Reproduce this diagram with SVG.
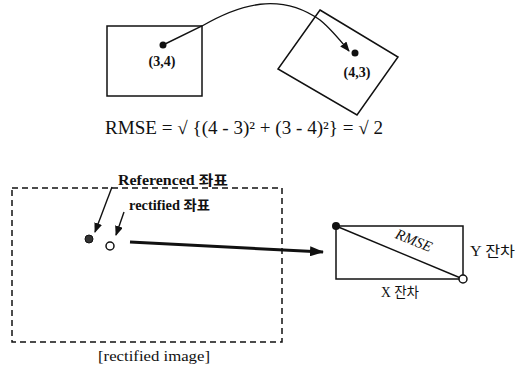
<svg xmlns="http://www.w3.org/2000/svg" width="517" height="369" viewBox="0 0 517 369">
<defs>
<style>
.t{font-family:"Liberation Serif","Noto Sans CJK KR",serif;fill:#111;}
.box{fill:none;stroke:#111;stroke-width:1.5;}
.ln{fill:none;stroke:#111;stroke-width:1.4;}
</style>
<marker id="ah" markerWidth="10" markerHeight="8" refX="9" refY="4" orient="auto" markerUnits="userSpaceOnUse">
<path d="M0,0 L10,4 L0,8 Z" fill="#111"/>
</marker>
<marker id="ahb" markerWidth="14" markerHeight="10" refX="13" refY="5" orient="auto" markerUnits="userSpaceOnUse">
<path d="M0,0 L14,5 L0,10 Z" fill="#111"/>
</marker>
</defs>
<rect width="517" height="369" fill="#fff"/>

<g id="connectors">
<path class="ln" d="M163,45 L202,26 C240,4 280,-8 320,20 C330,28 340,40 349,51" marker-end="url(#ah)"/>
<line class="ln" x1="112" y1="187" x2="95" y2="232" marker-end="url(#ah)"/>
<line class="ln" x1="124" y1="212" x2="116" y2="235" marker-end="url(#ah)"/>
<line x1="130" y1="242" x2="323" y2="252" stroke="#111" stroke-width="3" marker-end="url(#ahb)"/>
</g>

<g id="source-box">
<rect class="box" x="107" y="26" width="95" height="70"/>
<circle cx="163" cy="45" r="3.5" fill="#111"/>
<text class="t" x="162" y="66" font-size="14" font-weight="bold" text-anchor="middle">(3,4)</text>
</g>

<g id="target-box">
<polygon class="box" points="320,10 398,57 357,115 278,69"/>
<circle cx="355" cy="53" r="3.5" fill="#111"/>
<text class="t" x="357" y="77" font-size="14" font-weight="bold" text-anchor="middle">(4,3)</text>
</g>

<g id="formula">
<text class="t" x="105" y="134" font-size="18" textLength="278" lengthAdjust="spacingAndGlyphs">RMSE = √ {(4 - 3)² + (3 - 4)²} = √ 2</text>
</g>

<g id="rectified-image">
<rect x="12" y="188" width="270" height="154" fill="none" stroke="#111" stroke-width="1.5" stroke-dasharray="6,4"/>
<text class="t" x="98" y="361" font-size="15" textLength="112" lengthAdjust="spacingAndGlyphs">[rectified image]</text>
</g>

<g id="labels">
<text class="t" x="118" y="185" font-size="14" font-weight="bold" textLength="110" lengthAdjust="spacingAndGlyphs">Referenced 좌표</text>
<text class="t" x="129" y="210" font-size="14" font-weight="bold" textLength="81" lengthAdjust="spacingAndGlyphs">rectified 좌표</text>
</g>

<g id="points">
<circle cx="89" cy="239" r="4" fill="#333" stroke="#111" stroke-width="1"/>
<circle cx="110" cy="246" r="4" fill="#fff" stroke="#111" stroke-width="1.5"/>
</g>

<g id="error-box">
<rect class="box" x="336" y="226" width="127" height="53"/>
<line class="ln" x1="336" y1="226" x2="463" y2="279"/>
<circle cx="336" cy="226" r="4" fill="#111"/>
<circle cx="463" cy="279" r="4" fill="#fff" stroke="#111" stroke-width="1.5"/>
<text class="t" x="0" y="0" font-size="15" font-style="italic" text-anchor="middle" transform="translate(412,245) rotate(22)">RMSE</text>
<text class="t" x="470" y="256" font-size="14" textLength="45" lengthAdjust="spacingAndGlyphs">Y 잔차</text>
<text class="t" x="381" y="297" font-size="14" textLength="38" lengthAdjust="spacingAndGlyphs">X 잔차</text>
</g>
</svg>
